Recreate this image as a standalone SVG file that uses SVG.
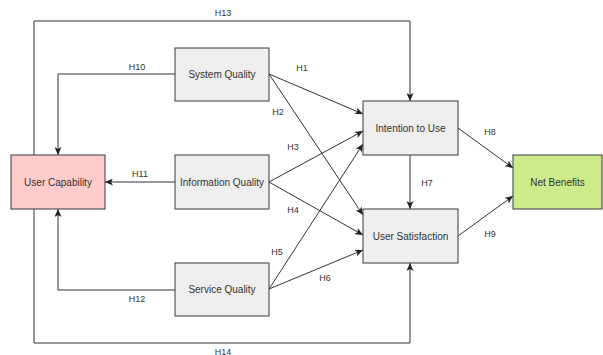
<svg xmlns="http://www.w3.org/2000/svg" width="603" height="355" viewBox="0 0 603 355">
<style>
.box{stroke:#36393d;stroke-width:1}
.grey{fill:#eeeeee}
.pink{fill:#ffcccc}
.green{fill:#cdeb8b}
.nt{font-family:"Liberation Sans",Arial,sans-serif;font-size:10px;fill:#333333;text-anchor:middle}
.et{font-family:"Liberation Sans",Arial,sans-serif;font-size:9px;fill:#333333;text-anchor:middle}
.c{fill:none;stroke:#333333;stroke-width:1;marker-end:url(#arr)}
</style>
<defs>
<marker id="arr" markerUnits="userSpaceOnUse" markerWidth="8" markerHeight="7" refX="8" refY="3.5" orient="auto">
<path d="M0,0 L8,3.5 L0,7 L2,3.5 z" fill="#222222"/>
</marker>
</defs>
<rect width="603" height="355" fill="#ffffff"/>
<g id="connectors">
<path class="c" d="M34,155 V21 H410 V101"/>
<path class="c" d="M34,209 V343 H410 V263"/>
<path class="c" d="M175,74 H58 V155"/>
<path class="c" d="M175,182 H105"/>
<path class="c" d="M175,290 H58 V209"/>
<path class="c" d="M269,74 L363,114"/>
<path class="c" d="M269,74 L363,215"/>
<path class="c" d="M269,182 L363,131"/>
<path class="c" d="M269,182 L363,235"/>
<path class="c" d="M269,289 L363,144"/>
<path class="c" d="M269,289 L363,250"/>
<path class="c" d="M410,155 V209"/>
<path class="c" d="M458,128 L513,168"/>
<path class="c" d="M458,236 L513,196"/>
<text class="et" x="223" y="16">H13</text>
<text class="et" x="137" y="70">H10</text>
<text class="et" x="140" y="177">H11</text>
<text class="et" x="137" y="302">H12</text>
<text class="et" x="223" y="355">H14</text>
<text class="et" x="302" y="71">H1</text>
<text class="et" x="278" y="115">H2</text>
<text class="et" x="293" y="150">H3</text>
<text class="et" x="293" y="213">H4</text>
<text class="et" x="277" y="255">H5</text>
<text class="et" x="325" y="281">H6</text>
<text class="et" x="427" y="186">H7</text>
<text class="et" x="490" y="135">H8</text>
<text class="et" x="490" y="237">H9</text>
</g>
<g id="system-quality">
<rect class="box grey" x="175" y="48" width="94" height="53"/>
<text class="nt" x="222" y="78">System Quality</text>
</g>
<g id="information-quality">
<rect class="box grey" x="175" y="155" width="94" height="54"/>
<text class="nt" x="222" y="185.5">Information Quality</text>
</g>
<g id="service-quality">
<rect class="box grey" x="175" y="263" width="94" height="53"/>
<text class="nt" x="222" y="293">Service Quality</text>
</g>
<g id="user-capability">
<rect class="box pink" x="11" y="155" width="94" height="54"/>
<text class="nt" x="58" y="185.5">User Capability</text>
</g>
<g id="intention-to-use">
<rect class="box grey" x="363" y="101" width="95" height="54"/>
<text class="nt" x="410.5" y="131.5">Intention to Use</text>
</g>
<g id="user-satisfaction">
<rect class="box grey" x="363" y="209" width="95" height="54"/>
<text class="nt" x="410.5" y="239.5">User Satisfaction</text>
</g>
<g id="net-benefits">
<rect class="box green" x="513" y="155" width="89" height="54"/>
<text class="nt" x="557.5" y="185.5">Net Benefits</text>
</g>
</svg>
